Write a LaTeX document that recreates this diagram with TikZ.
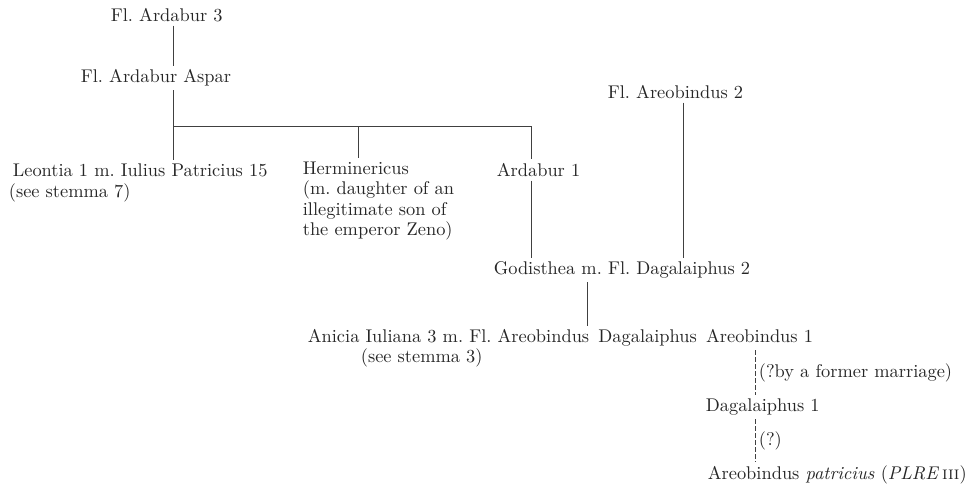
\documentclass[tikz,border=0pt]{standalone}
\usepackage{fontspec}

\tikzset{
	person/.style={inner sep=2pt, text=black!85, font=\fontsize{10.5}{11.6}\selectfont, anchor=west},
	kin/.style={line width=0.5pt, black!75},
	doubtful/.style={line width=0.4pt, black!75, dash pattern=on 2.6pt off 1.4pt},
}

\begin{document}
\frenchspacing
\begin{tikzpicture}[x=0.571pt, y=-0.571pt]
\useasboundingbox (0,0) rectangle (968,484);

\node[person] (ardabur3) at (107,15) {Fl. Ardabur 3};
\node[person] (aspar) at (77,78) {Fl. Ardabur Aspar};

\node[person] (leontia) at (9,170) {Leontia 1 m. Iulius Patricius 15};
\node[person] (leontiaref) at (5,193) {(see stemma 7)};

\node[person, anchor=north west, align=left] (herm) at (299,158) {Herminericus\\(m. daughter of an\\illegitimate son of\\the emperor Zeno)};

\node[person] (ardabur1) at (493,170) {Ardabur 1};
\node[person] (areob2) at (604,92) {Fl. Areobindus 2};

\node[person] (godis) at (490,270) {Godisthea m. Fl. Dagalaiphus 2};

\node[person] (anicia) at (304,338) {Anicia Iuliana 3 m. Fl. Areobindus\hspace{0.5em}Dagalaiphus\hspace{0.5em}Areobindus 1};
\node[person] (aniciaref) at (357,358) {(see stemma 3)};

\node[person] (dagal1) at (702,407) {Dagalaiphus 1};
\node[person] (areobpat) at (704,475) {Areobindus \textit{patricius} (\textit{PLRE}\,\textsc{iii})};

% junctions
\coordinate (fork) at (173,126);
\coordinate (hermtop) at (358,126);
\coordinate (ard1top) at (531,126);
\coordinate (areobline) at (683,0);
\coordinate (sonline) at (587,0);
\coordinate (dashline) at (755,0);

\draw[kin] (ardabur3.south -| fork) -- (aspar.north -| fork);
\draw[kin] (aspar.south -| fork) -- (leontia.north -| fork);
\draw[kin] (fork) -- (ard1top) -- (ardabur1.north -| ard1top);
\draw[kin] (hermtop) -- (herm.north -| hermtop);

\draw[kin] (ardabur1.south -| ard1top) -- (godis.north -| ard1top);
\draw[kin] (areob2.south -| areobline) -- (godis.north -| areobline);
\draw[kin] (godis.south -| sonline) -- (anicia.north -| sonline);

\draw[doubtful] (anicia.south -| dashline) -- node[person, right] (note1) {(?by a former marriage)} (dagal1.north -| dashline);
\draw[doubtful] (dagal1.south -| dashline) -- node[person, right] (note2) {(?)} (areobpat.north -| dashline);

\end{tikzpicture}
\end{document}
